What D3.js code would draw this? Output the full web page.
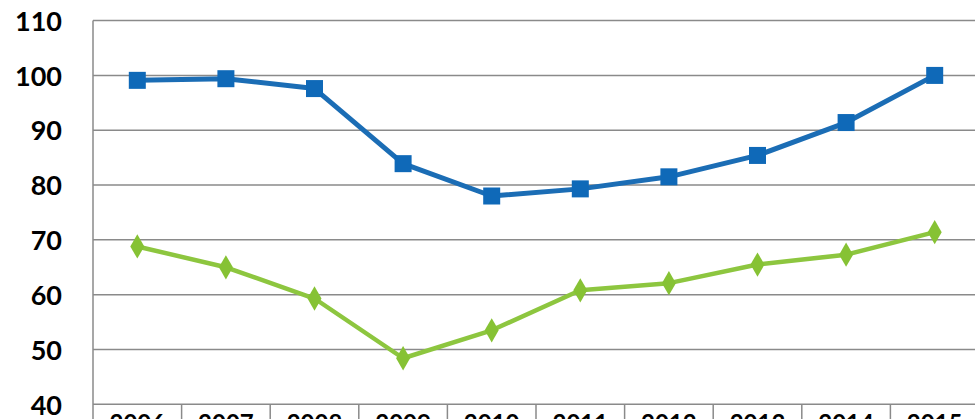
<!DOCTYPE html>
<html>
<head>
<meta charset="utf-8">
<script src="https://cdn.jsdelivr.net/npm/d3@7"></script>
<style>
  body { margin: 0; background: #fff; }
  svg { display: block; }
  .tick text { font-family: Lato, "Open Sans", sans-serif; font-weight: bold; fill: #000; }
</style>
</head>
<body>
<div id="chart"></div>
<script>
// Chart data
var years = ["2006", "2007", "2008", "2009", "2010", "2011", "2012", "2013", "2014", "2015"];
var blueValues = [99.1, 99.4, 97.6, 83.9, 78.0, 79.3, 81.5, 85.4, 91.4, 100.0];
var greenValues = [68.8, 65.0, 59.3, 48.4, 53.5, 60.8, 62.1, 65.5, 67.3, 71.4];
var yTicks = [40, 50, 60, 70, 80, 90, 100, 110];

var svgWidth = 975;
var svgHeight = 419;
var plot = { left: 93, right: 979, top: 20.6, bottom: 404.3 };

var svg = d3.select("#chart")
  .append("svg")
  .attr("width", svgWidth)
  .attr("height", svgHeight);

// Scales
var xScale = d3.scaleBand()
  .domain(years)
  .range([plot.left, plot.right]);
var yScale = d3.scaleLinear()
  .domain([40, 110])
  .range([plot.bottom, plot.top]);

// Horizontal gridlines
svg.append("g")
  .selectAll("line")
  .data(yTicks)
  .enter()
  .append("line")
  .attr("x1", plot.left)
  .attr("x2", plot.right)
  .attr("y1", d => yScale(d))
  .attr("y2", d => yScale(d))
  .attr("stroke", "#8a8a8a")
  .attr("stroke-width", 1.5);

// Left axis
var leftAxis = d3.axisLeft(yScale)
  .tickValues(yTicks)
  .tickSize(0)
  .tickPadding(31);
var yAxisG = svg.append("g")
  .attr("transform", `translate(${plot.left}, 0)`)
  .call(leftAxis);
yAxisG.select(".domain").remove();
yAxisG.selectAll("text").style("font-size", "27px").attr("dy", "0.36em");

// Left axis line (runs down past the category axis)
svg.append("line")
  .attr("x1", plot.left).attr("x2", plot.left)
  .attr("y1", plot.top).attr("y2", svgHeight)
  .attr("stroke", "#8a8a8a")
  .attr("stroke-width", 1.5);

// Category dividers below the axis
svg.append("g")
  .selectAll("line")
  .data(years.slice(1))
  .enter()
  .append("line")
  .attr("x1", d => xScale(d))
  .attr("x2", d => xScale(d))
  .attr("y1", plot.bottom)
  .attr("y2", svgHeight)
  .attr("stroke", "#8a8a8a")
  .attr("stroke-width", 1.5);

// Bottom axis labels (clipped by the frame, as in the original)
var bottomAxis = d3.axisBottom(xScale).tickSize(0).tickPadding(11);
var xAxisG = svg.append("g")
  .attr("transform", `translate(0, ${plot.bottom})`)
  .call(bottomAxis);
xAxisG.select(".domain").remove();
xAxisG.selectAll("text").style("font-size", "24px").attr("dy", "0.71em");

var line = d3.line()
  .x((d, i) => xScale(years[i]) + xScale.bandwidth() / 2)
  .y(d => yScale(d));

// Blue series
svg.append("path")
  .datum(blueValues)
  .attr("d", line)
  .attr("fill", "none")
  .attr("stroke", "#1b6db5")
  .attr("stroke-width", 5)
  .attr("stroke-linejoin", "round");
svg.append("g")
  .selectAll("rect")
  .data(blueValues)
  .enter()
  .append("rect")
  .attr("x", (d, i) => xScale(years[i]) + xScale.bandwidth() / 2 - 8.5)
  .attr("y", d => yScale(d) - 8.5)
  .attr("width", 17)
  .attr("height", 17)
  .attr("fill", "#0f69b8");

// Green series
svg.append("path")
  .datum(greenValues)
  .attr("d", line)
  .attr("fill", "none")
  .attr("stroke", "#8dc63f")
  .attr("stroke-width", 4.5)
  .attr("stroke-linejoin", "round");
var diamond = d3.symbol().type(d3.symbolDiamond).size(170);
svg.append("g")
  .selectAll("path")
  .data(greenValues)
  .enter()
  .append("path")
  .attr("d", diamond)
  .attr("transform", (d, i) => `translate(${xScale(years[i]) + xScale.bandwidth() / 2}, ${yScale(d)})`)
  .attr("fill", "#86c234");
</script>
</body>
</html>
